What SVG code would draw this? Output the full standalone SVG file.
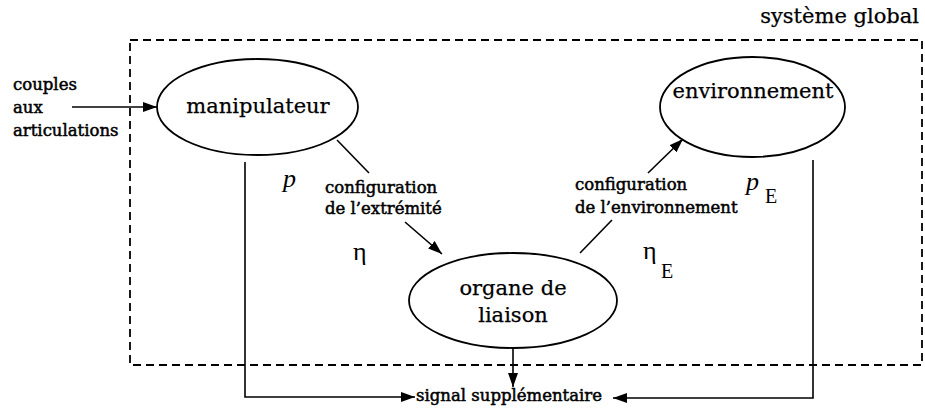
<svg xmlns="http://www.w3.org/2000/svg" width="925" height="410" viewBox="0 0 925 410">
<style>
.node{fill:#fff;stroke:#000;stroke-width:1.8}
.big{font-family:"DejaVu Serif","Liberation Serif",serif;font-size:21px;fill:#000;stroke:#000;stroke-width:0.25}
.small{font-family:"DejaVu Serif","Liberation Serif",serif;font-size:16.5px;fill:#000;stroke:#000;stroke-width:0.5}
.sym{font-family:"Liberation Serif",serif;font-size:26px;fill:#000}
.sub{font-family:"Liberation Serif",serif;font-size:20px;fill:#000}
.line{fill:none;stroke:#000;stroke-width:1.6}
.dash{fill:none;stroke:#000;stroke-width:1.8;stroke-dasharray:8 5}
</style>
<defs>
<marker id="ah" viewBox="0 0 14 10" refX="14" refY="5" markerWidth="14" markerHeight="10" markerUnits="userSpaceOnUse" orient="auto">
<path d="M0,0 L14,5 L0,10 Z" fill="#000"/>
</marker>
</defs>
<rect id="systeme" class="dash" x="130" y="40" width="792" height="325"/>
<text class="big" x="919" y="23" text-anchor="end">système global</text>
<g id="manipulateur">
<ellipse class="node" cx="257.5" cy="107" rx="100.5" ry="48"/>
<text class="big" x="258" y="113" text-anchor="middle">manipulateur</text>
</g>
<g id="environnement">
<ellipse class="node" cx="752.5" cy="107" rx="92.5" ry="50"/>
<text class="big" x="753" y="98" text-anchor="middle">environnement</text>
</g>
<g id="organe">
<ellipse class="node" cx="513" cy="300.5" rx="104" ry="47.5"/>
<text class="big" x="513" y="295" text-anchor="middle">organe de</text>
<text class="big" x="513" y="322" text-anchor="middle">liaison</text>
</g>
<g id="connectors">
<line class="line" x1="72" y1="107" x2="157" y2="107" marker-end="url(#ah)"/>
<line class="line" x1="337" y1="140" x2="369" y2="173"/>
<line class="line" x1="405" y1="222" x2="442" y2="254" marker-end="url(#ah)"/>
<line class="line" x1="580" y1="253" x2="612" y2="220"/>
<line class="line" x1="648" y1="173" x2="683" y2="139" marker-end="url(#ah)"/>
<line class="line" x1="513" y1="348" x2="513" y2="387" marker-end="url(#ah)"/>
<polyline class="line" points="245,162 245,397 415,397" marker-end="url(#ah)"/>
<polyline class="line" points="813,160 813,398 613,398" marker-end="url(#ah)"/>
</g>
<g id="labels">
<text class="small"><tspan x="13" y="90">couples</tspan><tspan x="13" y="113">aux</tspan><tspan x="13" y="136">articulations</tspan></text>
<text class="small"><tspan x="325" y="193">configuration</tspan><tspan x="325" y="214">de l’extrémité</tspan></text>
<text class="small"><tspan x="575" y="190">configuration</tspan><tspan x="575" y="213">de l’environnement</tspan></text>
<text class="small" x="416" y="401">signal supplémentaire</text>
<text class="sym" x="283" y="187" font-style="italic">p</text>
<text class="sym" x="746" y="190" font-style="italic" font-size="24">p</text>
<text class="sub" x="765" y="203">E</text>
<text class="sym" x="353" y="260">η</text>
<text class="sym" x="643" y="259">η</text>
<text class="sub" x="661" y="278" font-size="18">E</text>
</g>
</svg>
